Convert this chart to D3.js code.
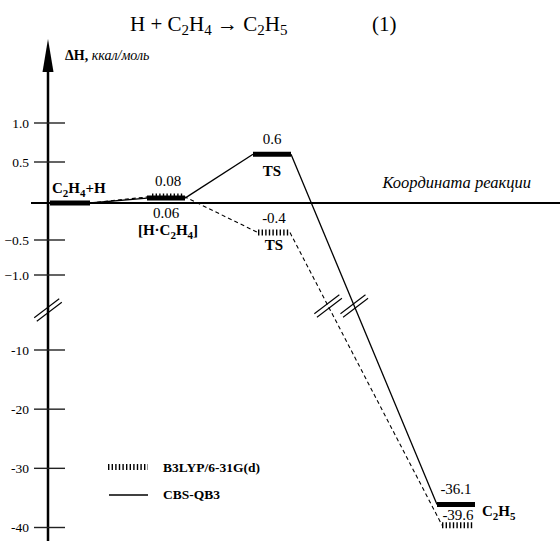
<!DOCTYPE html>
<html>
<head>
<meta charset="utf-8">
<script src="https://cdn.jsdelivr.net/npm/d3@7"></script>
<style>
  body { margin: 0; background: #fff; }
</style>
</head>
<body>
<div id="chart"></div>
<script>
// levels along the reaction coordinate
const levels = ['C2H4+H', 'H·C2H4', 'TS', 'C2H5'];
const b3lyp = [0, 0.08, -0.4, -39.6];   // B3LYP/6-31G(d)
const cbs = [0, 0.06, 0.6, -36.1];      // CBS-QB3
const upperTicks = [1.0, 0.5, -0.5, -1.0];
const lowerTicks = [-10, -20, -30, -40];

const W = 560, H = 541;
const FONT = "'Liberation Serif', 'Times New Roman', 'DejaVu Serif', serif";
const svg = d3.select('#chart').append('svg')
    .attr('width', W)
    .attr('height', H)
    .attr('font-family', FONT);

// broken y axis: fine scale near zero, coarse one below the break
const yTop = d3.scaleLinear().domain([1, 0.5, 0, -0.5, -1]).range([123, 162, 203, 240, 275]);
const yBot = d3.scaleLinear().domain([-10, -40]).range([350, 527.5]);
const y = v => v > -5 ? yTop(v) : yBot(v);
const x = d3.scaleLinear().domain([0, 1, 2, 3]).range([70, 166, 272, 456]);

const axisX = 48;

function txt(xp, yp, size) {
    return svg.append('text').attr('x', xp).attr('y', yp)
        .attr('font-family', FONT).attr('font-size', size).attr('fill', '#000');
}
// text with subscripts: parts = [string, isSub]
function rich(t, parts, size, subSize) {
    let low = false;
    parts.forEach(p => {
        const dy = p[1] && !low ? 4 : (!p[1] && low ? -4 : 0);
        low = !!p[1];
        t.append('tspan').attr('dy', dy).attr('font-size', p[1] ? subSize : size).text(p[0]);
    });
    return t;
}

// title
rich(txt(130, 31, 21), [['H + C'], ['2', 1], ['H'], ['4', 1], [' \u2192 C'], ['2', 1], ['H'], ['5', 1]], 21, 15);
txt(372, 31, 21).text('(1)');

// y axis with arrow
svg.append('line')
    .attr('x1', axisX).attr('y1', 60).attr('x2', axisX).attr('y2', H)
    .attr('stroke', '#000').attr('stroke-width', 2.5);
svg.append('path')
    .attr('d', `M${axisX},39 L${axisX - 5.5},72 L${axisX + 5.5},72 Z`)
    .attr('fill', '#000');

const yLab = txt(65, 60, 14);
yLab.append('tspan').attr('font-weight', 'bold').text('\u0394H, ');
yLab.append('tspan').attr('font-style', 'italic').text('ккал/моль');

// ticks
const fmt = d3.format('.1f');
const tickData = upperTicks.map(v => ({ y: yTop(v), t: fmt(v) }))
    .concat(lowerTicks.map(v => ({ y: yBot(v), t: String(v) })));
svg.selectAll('.tick').data(tickData).enter().append('line')
    .attr('x1', 34).attr('x2', 65)
    .attr('y1', d => d.y).attr('y2', d => d.y)
    .attr('stroke', '#222').attr('stroke-width', 1.4);
tickData.forEach(d => {
    txt(29, d.y + 4.5, 13.5).attr('text-anchor', 'end').text(d.t);
});

// double slash helper
function slashes(cx, cy) {
    [-1, 1].forEach(s => {
        svg.append('line')
            .attr('x1', cx - 12.5 + s * 1.3).attr('y1', cy + 9.5 + s * 1.7)
            .attr('x2', cx + 12.5 + s * 1.3).attr('y2', cy - 9.5 + s * 1.7)
            .attr('stroke', '#000').attr('stroke-width', 1.1);
    });
}
slashes(axisX, 310);

// reaction coordinate axis
svg.append('line')
    .attr('x1', 31).attr('x2', W).attr('y1', yTop(0)).attr('y2', yTop(0))
    .attr('stroke', '#000').attr('stroke-width', 2);
txt(531, 188, 16.5).attr('text-anchor', 'end').attr('font-style', 'italic')
    .text('Координата реакции');

// series
const series = [
    { vals: b3lyp, hw: 16, dx: 2, bar: { w: 6, dash: '1.4,2.2' }, link: { w: 1.1, dash: '4,3' } },
    { vals: cbs, hw: 19, dx: 0, bar: { w: 5, dash: null }, link: { w: 1.3, dash: null } }
];

series.forEach(s => {
    const pts = s.vals.map((v, i) => ({ cx: x(i) + (i > 0 ? s.dx : 0), cy: y(v), hw: i > 0 ? s.hw : 20 }));
    // connectors
    for (let i = 0; i < pts.length - 1; i++) {
        const a = pts[i], b = pts[i + 1];
        svg.append('line')
            .attr('x1', a.cx + a.hw).attr('y1', a.cy)
            .attr('x2', b.cx - b.hw).attr('y2', b.cy)
            .attr('stroke', '#000').attr('stroke-width', s.link.w)
            .attr('stroke-dasharray', s.link.dash);
    }
    // level bars (reactant drawn once, solid)
    pts.forEach((p, i) => {
        if (i === 0 && s.bar.dash) return;
        svg.append('line')
            .attr('x1', p.cx - p.hw).attr('x2', p.cx + p.hw)
            .attr('y1', p.cy).attr('y2', p.cy)
            .attr('stroke', '#000').attr('stroke-width', s.bar.w)
            .attr('stroke-dasharray', s.bar.dash);
    });
    // break on the long TS -> product connector
    const a = pts[2], b = pts[3];
    const x1 = a.cx + a.hw, x2 = b.cx - b.hw;
    const t = (306 - a.cy) / (b.cy - a.cy);
    slashes(x1 + t * (x2 - x1), 306);
});

// labels
function label(xp, yp, s, bold) {
    return txt(xp, yp, 15).attr('text-anchor', 'middle')
        .attr('font-weight', bold ? 'bold' : 'normal')
        .text(s);
}
function chem(xp, yp, parts, anchor) {
    const t = txt(xp, yp, 15).attr('text-anchor', anchor || 'start').attr('font-weight', 'bold');
    return rich(t, parts, 15, 11);
}

chem(52, 193, [['C'], ['2', 1], ['H'], ['4', 1], ['+H']]);

label(x(1) + 2, y(b3lyp[1]) - 10, String(b3lyp[1]));
label(x(1), y(cbs[1]) + 20, String(cbs[1]));
chem(x(1) + 2, 235, [['[H\u00b7C'], ['2', 1], ['H'], ['4', 1], [']']], 'middle');

label(x(2), y(cbs[2]) - 10, String(cbs[2]));
label(x(2), y(cbs[2]) + 22, 'TS', true);
label(x(2) + 2, y(b3lyp[2]) - 10, String(b3lyp[2]));
label(x(2) + 2, y(b3lyp[2]) + 17, 'TS', true);

label(x(3), y(cbs[3]) - 10, String(cbs[3]));
label(x(3) + 2, y(b3lyp[3]) - 5, String(b3lyp[3]));
chem(482, y(b3lyp[3]) - 9, [['C'], ['2', 1], ['H'], ['5', 1]]);

// legend
svg.append('line').attr('x1', 108).attr('x2', 148).attr('y1', 467).attr('y2', 467)
    .attr('stroke', '#000').attr('stroke-width', 6).attr('stroke-dasharray', '1.4,2.2');
svg.append('line').attr('x1', 109).attr('x2', 148).attr('y1', 495).attr('y2', 495)
    .attr('stroke', '#000').attr('stroke-width', 1.3);
txt(163, 472, 13.5).attr('font-weight', 'bold').text('B3LYP/6-31G(d)');
txt(163, 499, 13.5).attr('font-weight', 'bold').text('CBS-QB3');
</script>
</body>
</html>
